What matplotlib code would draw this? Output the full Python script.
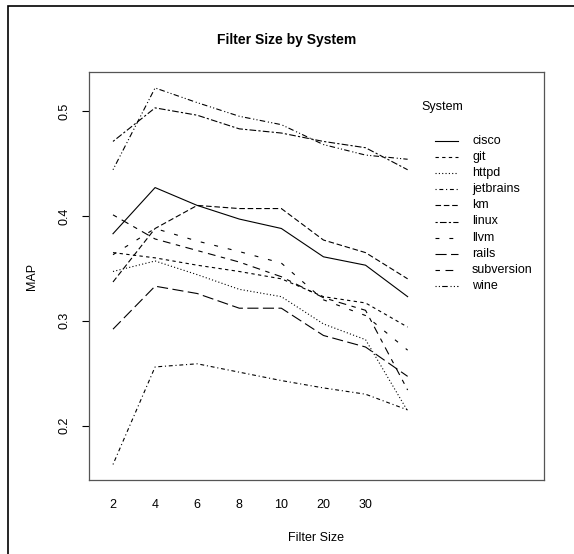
import numpy as np
import matplotlib
matplotlib.use("Agg")
import matplotlib.pyplot as plt
from matplotlib.patches import Rectangle

plt.rcParams['font.family'] = ['Liberation Sans', 'DejaVu Sans']

# filter size levels (last level has no printed label in the original)
filter_labels = ["2", "4", "6", "8", "10", "20", "30", ""]

systems = ["cisco", "git", "httpd", "jetbrains", "km", "linux",
           "llvm", "rails", "subversion", "wine"]

cisco = [0.383, 0.427, 0.410, 0.397, 0.388, 0.361, 0.353, 0.323]
git = [0.365, 0.360, 0.353, 0.347, 0.340, 0.323, 0.317, 0.294]
httpd = [0.347, 0.357, 0.344, 0.330, 0.323, 0.297, 0.282, 0.214]
jetbrains = [0.163, 0.256, 0.259, 0.251, 0.243, 0.236, 0.230, 0.215]
km = [0.337, 0.388, 0.410, 0.407, 0.407, 0.377, 0.365, 0.340]
linux = [0.471, 0.503, 0.496, 0.483, 0.479, 0.471, 0.465, 0.444]
llvm = [0.363, 0.388, 0.376, 0.366, 0.355, 0.320, 0.305, 0.272]
rails = [0.292, 0.333, 0.326, 0.312, 0.312, 0.286, 0.275, 0.247]
subversion = [0.401, 0.378, 0.367, 0.356, 0.342, 0.322, 0.310, 0.234]
wine = [0.444, 0.522, 0.508, 0.495, 0.487, 0.468, 0.458, 0.454]

series = [cisco, git, httpd, jetbrains, km, linux, llvm, rails, subversion, wine]

dashes = [
    "-",
    (0, (3, 3)),
    (0, (1, 2)),
    (0, (1, 2.5, 3.5, 2.5)),
    (0, (5, 2.5)),
    (0, (2, 2, 6, 2)),
    (0, (3.5, 9)),
    (0, (10, 4)),
    (0, (4, 5, 7, 5)),
    (0, (1, 2, 1, 2, 5, 2.5)),
]

fig = plt.figure(figsize=(5.74, 5.54), dpi=100)
ax = fig.add_axes([89 / 574, 1 - 480 / 554, 455 / 574, 408 / 554])

x = np.arange(1, len(filter_labels) + 1)
for vals, ls in zip(series, dashes):
    ax.plot(x, vals, color="black", lw=0.8, linestyle=ls)

ax.set_xlim(0.43, 11.24)
ax.set_ylim(0.1482, 0.5372)

ax.set_xticks(x)
ax.set_xticklabels(filter_labels, fontsize=9)
ax.tick_params(axis="x", length=0, pad=14)
ax.set_yticks([0.2, 0.3, 0.4, 0.5])
ax.set_yticklabels(["0.2", "0.3", "0.4", "0.5"], fontsize=9, rotation=90, va="center")
ax.tick_params(axis="y", length=5, width=0.8, pad=8)

for sp in ax.spines.values():
    sp.set_color("#555555")
    sp.set_linewidth(0.9)

ax.set_xlabel("Filter Size", fontsize=9, labelpad=15)
ax.set_ylabel("MAP", fontsize=9, labelpad=15)

# legend drawn by hand, R interaction.plot style
ax.text(0.730, 0.914, "System", transform=ax.transAxes, fontsize=9, va="center")
for i, (name, ls) in enumerate(zip(systems, dashes)):
    yy = (480 - (141 + 16.1 * i)) / 408
    ax.plot([0.760, 0.811], [yy, yy], transform=ax.transAxes,
            color="black", lw=0.8, linestyle=ls, clip_on=False)
    ax.text(0.842, yy, name, transform=ax.transAxes, fontsize=9, va="center")

fig.text(0.5, 1 - 40 / 554, "Filter Size by System", ha="center", va="center",
         fontsize=10, fontweight="bold")

fig.patches.append(Rectangle((8 / 574, -0.05), 1.1, 1 - 6 / 554 + 0.05,
                             transform=fig.transFigure, fill=False,
                             edgecolor="black", lw=1.2))

fig.savefig("out.png", dpi=100)
